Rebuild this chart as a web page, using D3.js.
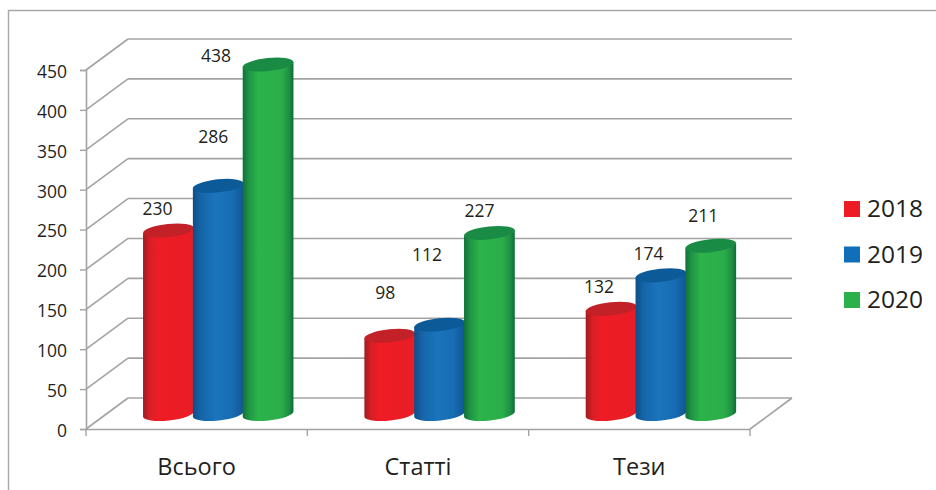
<!DOCTYPE html>
<html>
<head>
<meta charset="utf-8">
<script src="https://cdnjs.cloudflare.com/ajax/libs/d3/7.8.5/d3.min.js"></script>
<style>
  html, body { margin: 0; padding: 0; background: #fff; }
  svg { display: block; }
  text { font-family: "Open Sans", sans-serif; fill: #231f20; }
</style>
</head>
<body>
<div id="chart"></div>
<script>
// chart data
var categories = ["Всього", "Статті", "Тези"];
var seriesNames = ["2018", "2019", "2020"];
var values2018 = [230, 98, 132];
var values2019 = [286, 112, 174];
var values2020 = [438, 227, 211];
var yTicks = [0, 50, 100, 150, 200, 250, 300, 350, 400, 450];

var allValues = [values2018, values2019, values2020];

// label nudges, the labels in the picture sit off their bars by hand
var labelShift = [
  [[-11, -15.5], [-5, -43], [-52, -2.5]],
  [[-4.5, -37], [-12.5, -63.5], [-10, -16]],
  [[-12, -15.5], [-12.5, -15], [-7.5, -23.5]]
];

var width = 936, height = 490;
var depthX = 42, depthY = -31;
var gridColor = "#a3a3a3";

var svg = d3.select("#chart")
  .append("svg")
    .attr("width", width)
    .attr("height", height);

// frame, only left and top edges are visible in the picture
svg.append("path")
  .attr("d", "M8.5,490V10.5H936")
  .attr("fill", "none")
  .attr("stroke", "#a8a8a8")
  .attr("stroke-width", 1.4);

// scales
var y = d3.scaleLinear().domain([0, 450]).range([429, 70]);
var x0 = d3.scaleBand().domain(categories).range([86, 750]);
var x1 = d3.scaleBand().domain(seriesNames).range([57.5, 207]);

// gradients for cylinder sides
var sideStops = [
  [["0%", "#a11c21"], ["14%", "#d91f26"], ["30%", "#ee1c25"], ["100%", "#e81d25"]],
  [["0%", "#0e4e86"], ["16%", "#1565a8"], ["45%", "#1b75bc"], ["78%", "#176cb2"], ["100%", "#115594"]],
  [["0%", "#11703a"], ["12%", "#1f9445"], ["30%", "#2cb34a"], ["76%", "#2bae4a"], ["91%", "#1f9044"], ["100%", "#0f6b38"]]
];
var topColors = ["#c12127", "#0c5a98", "#1a8b45"];
var legendColors = ["#ed1c24", "#116fb9", "#2bb04a"];

var defs = svg.append("defs");
sideStops.forEach(function(stops, i) {
  var g = defs.append("linearGradient").attr("id", "side" + i);
  stops.forEach(function(s) {
    g.append("stop").attr("offset", s[0]).attr("stop-color", s[1]);
  });
});

// back wall gridlines and side diagonals
var grid = svg.append("g")
  .attr("fill", "none")
  .attr("stroke", gridColor)
  .attr("stroke-width", 1.6);

grid.selectAll(".back")
  .data(yTicks)
  .enter()
  .append("line")
    .attr("x1", x0.range()[0] + depthX)
    .attr("x2", x0.range()[1] + depthX)
    .attr("y1", function(d) { return y(d) + depthY; })
    .attr("y2", function(d) { return y(d) + depthY; });

grid.selectAll(".diag")
  .data(yTicks)
  .enter()
  .append("line")
    .attr("x1", x0.range()[0])
    .attr("x2", x0.range()[0] + depthX)
    .attr("y1", function(d) { return y(d); })
    .attr("y2", function(d) { return y(d) + depthY; });

// right edge of the floor
grid.append("line")
  .attr("x1", x0.range()[1])
  .attr("x2", x0.range()[1] + depthX)
  .attr("y1", y(0))
  .attr("y2", y(0) + depthY);

// Y axis
var yAxis = svg.append("g")
  .attr("transform", "translate(" + x0.range()[0] + ",0)")
  .call(d3.axisLeft(y).tickValues(yTicks).tickSize(6).tickPadding(13));

// X axis
var xAxis = svg.append("g")
  .attr("transform", "translate(0," + y(0) + ")")
  .call(d3.axisBottom(x0).tickSize(0).tickPadding(29.5));

xAxis.selectAll(".tick")
  .select("text")
  .style("font-size", "23.5px");

yAxis.selectAll("text")
  .attr("dy", "0.42em")
  .style("font-size", "17.5px");
[yAxis, xAxis].forEach(function(a) {
  a.select(".domain").attr("stroke", gridColor).attr("stroke-width", 1.6);
  a.selectAll(".tick line").attr("stroke", gridColor).attr("stroke-width", 1.4);
});

// tick marks sit between the categories
var boundaries = categories.map(function(c) { return x0(c); }).concat(x0.range()[1]);
xAxis.selectAll(".sep")
  .data(boundaries)
  .enter()
  .append("line")
    .attr("x1", function(d) { return d; })
    .attr("x2", function(d) { return d; })
    .attr("y1", 0)
    .attr("y2", 7)
    .attr("stroke", gridColor)
    .attr("stroke-width", 1.4);

// cylinders
var floorY = y(0) - 15;
var tilt = -6;
var ry = 6.5;
var rad = tilt * Math.PI / 180;

function cylinderBody(cx, topY, baseY, rx) {
  var dx = rx * Math.cos(rad), dy = rx * Math.sin(rad);
  return "M" + (cx - dx) + "," + (topY - dy) +
    "L" + (cx - dx) + "," + (baseY - dy) +
    "A" + rx + "," + ry + " " + tilt + " 0 0 " + (cx + dx) + "," + (baseY + dy) +
    "L" + (cx + dx) + "," + (topY + dy) + "Z";
}

var rx = x1.bandwidth() / 2 + 0.6;
var lift = y(0) - floorY;

categories.forEach(function(cat, c) {
  seriesNames.forEach(function(name, s) {
    var v = allValues[s][c];
    var cx = x0(cat) + x1(name) + x1.bandwidth() / 2;
    var topY = y(v) - lift;

    svg.append("path")
      .attr("d", cylinderBody(cx, topY, floorY, rx))
      .attr("fill", "url(#side" + s + ")");

    svg.append("ellipse")
      .attr("rx", rx)
      .attr("ry", ry)
      .attr("transform", "translate(" + cx + "," + topY + ")rotate(" + tilt + ")")
      .attr("fill", topColors[s]);
  });
});

// value labels
categories.forEach(function(cat, c) {
  seriesNames.forEach(function(name, s) {
    var v = allValues[s][c];
    svg.append("text")
      .attr("x", x0(cat) + x1(name) + x1.bandwidth() / 2 + labelShift[c][s][0])
      .attr("y", y(v) - lift + labelShift[c][s][1])
      .attr("text-anchor", "middle")
      .style("font-size", "17.5px")
      .text(v);
  });
});

// legend
var legendY = d3.scalePoint().domain(seriesNames).range([209, 300]);
var legend = svg.selectAll(".legend")
  .data(seriesNames)
  .enter()
  .append("g")
    .attr("transform", function(d) { return "translate(844," + legendY(d) + ")"; });

legend.append("rect")
  .attr("x", 0)
  .attr("y", -8)
  .attr("width", 16)
  .attr("height", 16)
  .attr("fill", function(d, i) { return legendColors[i]; });

legend.append("text")
  .attr("x", 23)
  .attr("y", 8)
  .style("font-size", "24.5px")
  .text(function(d) { return d; });
</script>
</body>
</html>
